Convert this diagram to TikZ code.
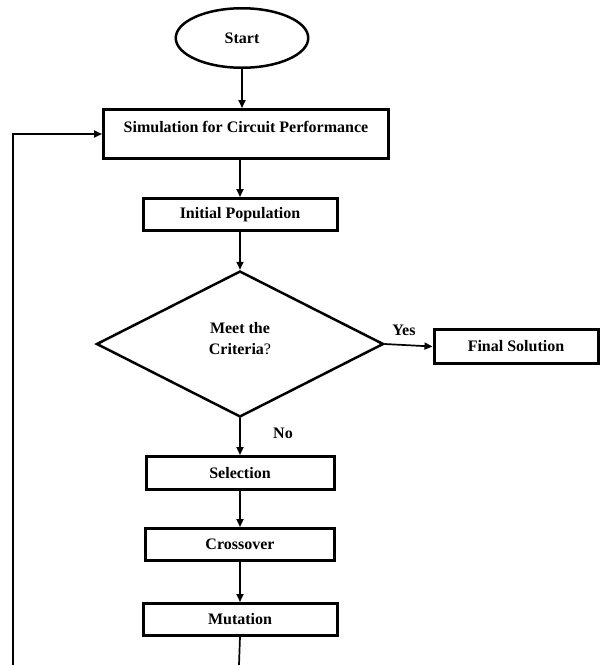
\documentclass[tikz,border=0pt]{standalone}
\usepackage{fontspec}
\setmainfont{Liberation Serif}
\usetikzlibrary{shapes.geometric,arrows.meta}
\begin{document}
\begin{tikzpicture}[x=1pt,y=-1pt,
  txt/.style={font=\fontsize{16}{21}\selectfont\bfseries},
  box/.style={draw, line width=3pt, rectangle, inner sep=0pt, txt},
  arr/.style={line width=1.7pt, -{Triangle[length=8pt,width=7pt]}},
  ln/.style={line width=1.7pt}]
\useasboundingbox (0,0) rectangle (601,665);
\node[draw, ellipse, line width=2.5pt, minimum width=132.5pt, minimum height=59.5pt, inner sep=0pt, txt] (start) at (242,38) {Start};
\node[box, minimum width=285pt, minimum height=49pt,
  label={[txt, yshift=7pt]center:Simulation for Circuit Performance}] (sim) at (246,134) {};
\node[box, minimum width=194pt, minimum height=32pt] (ip) at (240,214.5) {Initial Population};
\node[draw, diamond, line width=2.5pt, minimum width=287pt, minimum height=146pt, inner sep=0pt,
  label={[txt, align=center, yshift=5pt]center:Meet the\\Criteria\textmd{?}}] (dia) at (240,344) {};
\node[box, minimum width=164pt, minimum height=34pt] (fs) at (516,346.5) {Final Solution};
\node[box, minimum width=188pt, minimum height=33pt] (sel) at (240,473) {Selection};
\node[box, minimum width=189pt, minimum height=32pt] (cro) at (240,544.5) {Crossover};
\node[box, minimum width=194pt, minimum height=32pt] (mut) at (240,619.5) {Mutation};
\node[txt] (yes) at (404,330) {Yes};
\node[txt] (no) at (283,433) {No};
\coordinate (mutend) at (239,665);
\coordinate (fbstart) at (13,665);
\draw[arr] (start) -- (start |- sim.north);
\draw[arr] (ip |- sim.south) -- (ip.north);
\draw[arr] (ip) -- (dia);
\draw[arr] (dia) -- (sel);
\draw[arr] (dia.east) -- (fs.west);
\draw[arr] (sel) -- (cro);
\draw[arr] (cro) -- (mut);
\draw[ln] (mut.south) -- (mutend);
\draw[arr] (fbstart) |- (sim.west);
\end{tikzpicture}
\end{document}
